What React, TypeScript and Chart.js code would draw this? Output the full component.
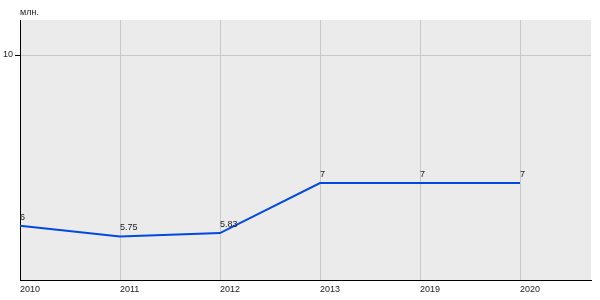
import React, { useEffect, useRef } from "react";
import { Chart, registerables } from "chart.js";

Chart.register(...registerables);

const years = ["2010", "2011", "2012", "2013", "2019", "2020"];
const values = [6, 5.75, 5.83, 7, 7, 7];
const valueLabels = ["6", "5.75", "5.83", "7", "7", "7"];
const yTicks = [10];
const unitLabel = "млн.";

const FONT = "'Liberation Sans', Arial, sans-serif";

export default function App() {
  const ref = useRef<HTMLCanvasElement | null>(null);

  useEffect(() => {
    document.body.style.margin = "0";
    const canvas = ref.current;
    if (!canvas) return;

    const bgPlugin = {
      id: "bg",
      beforeDraw(chart: any) {
        const { ctx, chartArea } = chart;
        ctx.save();
        ctx.fillStyle = "#ebebeb";
        ctx.fillRect(chartArea.left, chartArea.top, chartArea.right - chartArea.left, chartArea.bottom - chartArea.top);
        ctx.restore();
      },
      afterDraw(chart: any) {
        const { ctx, chartArea } = chart;
        ctx.save();
        ctx.font = `9px ${FONT}`;
        ctx.fillStyle = "#222";
        ctx.textAlign = "left";
        ctx.textBaseline = "alphabetic";
        ctx.fillText(unitLabel, chartArea.left, 15);
        const meta = chart.getDatasetMeta(0);
        meta.data.forEach((pt: any, i: number) => {
          ctx.fillText(valueLabels[i], pt.x, pt.y - 6);
        });
        ctx.restore();
      },
    };

    const chart = new Chart(canvas, {
      type: "line",
      data: {
        datasets: [
          {
            data: values.map((v, i) => ({ x: i, y: v })),
            borderColor: "#0049e0",
            borderWidth: 2,
            pointRadius: 0,
            tension: 0,
          },
        ],
      },
      options: {
        animation: false,
        responsive: false,
        layout: { padding: { top: 20, right: 9, left: 0, bottom: 0 } },
        plugins: { legend: { display: false }, tooltip: { enabled: false } },
        scales: {
          x: {
            type: "linear",
            min: 0,
            max: 5.71,
            afterBuildTicks(scale: any) {
              scale.ticks = years.map((_, i) => ({ value: i }));
            },
            afterFit(scale: any) {
              scale.height = 20;
            },
            grid: { color: "#c8c8c8", drawTicks: false, lineWidth: 1 },
            border: { color: "#000", width: 1 },
            ticks: {
              callback: (v: any) => years[v as number] ?? "",
              align: "start",
              padding: 4,
              color: "#222",
              font: { size: 9, family: FONT },
              maxRotation: 0,
              autoSkip: false,
            },
          },
          y: {
            min: 4.73,
            max: 10.82,
            afterBuildTicks(scale: any) {
              scale.ticks = yTicks.map((v) => ({ value: v }));
            },
            afterFit(scale: any) {
              scale.width = 20;
            },
            grid: { color: "#c8c8c8", tickColor: "#000", tickLength: 5, lineWidth: 1 },
            border: { color: "#000", width: 1 },
            ticks: {
              padding: 2,
              color: "#222",
              font: { size: 9, family: FONT },
            },
          },
        },
      },
      plugins: [bgPlugin],
    });

    return () => chart.destroy();
  }, []);

  return (
    <div style={{ width: 600, height: 300 }}>
      <canvas ref={ref} width={600} height={300} style={{ display: "block" }} />
    </div>
  );
}
